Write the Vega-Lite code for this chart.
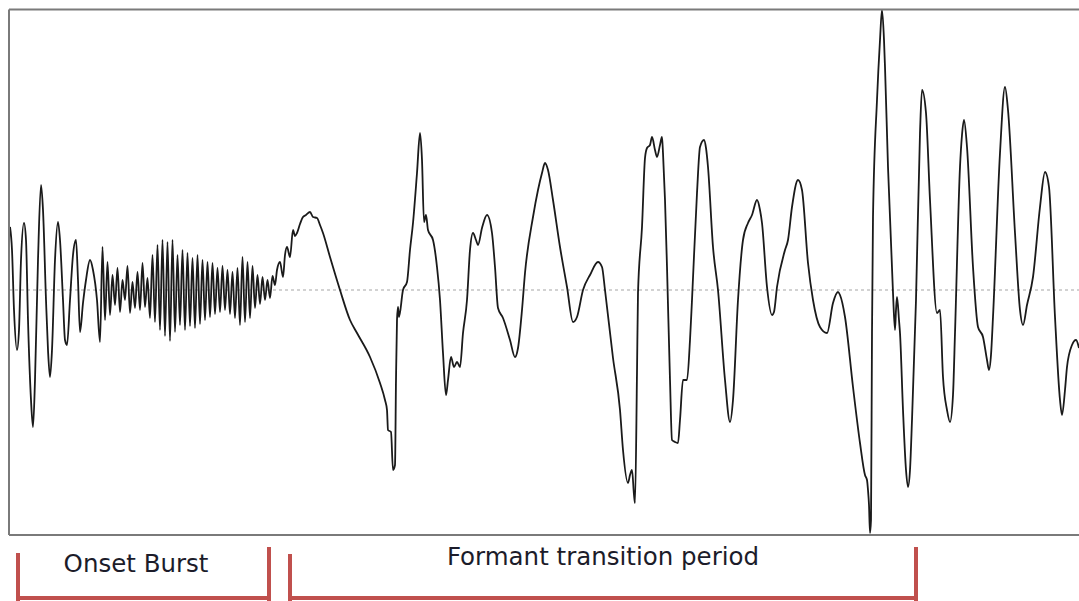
{
  "$schema": "https://vega.github.io/schema/vega-lite/v6.json",
  "width": 1079,
  "height": 601,
  "padding": 0,
  "autosize": {"type": "fit", "contains": "padding"},
  "background": "white",
  "config": {"view": {"stroke": null}},
  "datasets": {
    "zero": [{"t": 9, "t2": 1079, "a": 0, "a2": 0}],
    "frame": [
      {"t": 9, "t2": 1079, "a": 280.5, "a2": 280.5},
      {"t": 9, "t2": 1079, "a": -245, "a2": -245},
      {"t": 9, "t2": 9, "a": 280.5, "a2": -245}
    ],
    "brackets": [
      {"t": 18, "t2": 18, "a": -265, "a2": -310},
      {"t": 18, "t2": 269, "a": -308, "a2": -308},
      {"t": 269, "t2": 269, "a": -259, "a2": -310},
      {"t": 290, "t2": 290, "a": -266, "a2": -310},
      {"t": 290, "t2": 916, "a": -308, "a2": -308},
      {"t": 916, "t2": 916, "a": -259, "a2": -310}
    ],
    "labels": [
      {"t": 136, "a": -275, "label": "Onset Burst"},
      {"t": 603, "a": -268, "label": "Formant transition period"}
    ],
    "wave": [
      {"t":10,"a":63},{"t":12,"a":40},{"t":14,"a":-20},{"t":17,"a":-60},{"t":19,"a":-40},{"t":21,"a":30},{"t":24,"a":67},{"t":26,"a":50},{"t":28,"a":-30},{"t":31,"a":-110},{"t":33,"a":-137},{"t":35,"a":-90},{"t":38,"a":30},{"t":41,"a":105},{"t":43,"a":80},{"t":46,"a":-10},{"t":48,"a":-60},{"t":50,"a":-87},{"t":52,"a":-60},{"t":55,"a":30},{"t":58,"a":68},{"t":60,"a":50},{"t":63,"a":-10},{"t":65,"a":-50},{"t":67,"a":-55},{"t":70,"a":-10},{"t":73,"a":35},{"t":76,"a":50},{"t":78,"a":10},{"t":80,"a":-42},{"t":83,"a":-13},{"t":86,"a":10},{"t":90,"a":30},{"t":93,"a":20},{"t":97,"a":-10},{"t":100,"a":-52},
      {"t":102.5,"a":43},{"t":105,"a":-30},{"t":107.5,"a":28},{"t":110,"a":-25},{"t":112.5,"a":15},{"t":115,"a":-15},{"t":117.5,"a":22},{"t":120,"a":-22},{"t":122.5,"a":10},{"t":125,"a":-10},{"t":127.5,"a":24},{"t":130,"a":-23},{"t":132.5,"a":8},{"t":135,"a":-18},{"t":137.5,"a":18},{"t":140,"a":-20},{"t":142.5,"a":27},{"t":145,"a":-17},{"t":147.5,"a":12},{"t":150,"a":-28},{"t":152.5,"a":35},{"t":155,"a":-32},{"t":157.5,"a":45},{"t":160,"a":-40},{"t":162.5,"a":50},{"t":165,"a":-46},{"t":167.5,"a":48},{"t":170,"a":-51},{"t":172.5,"a":50},{"t":175,"a":-42},{"t":177.5,"a":35},{"t":180,"a":-35},{"t":182.5,"a":40},{"t":185,"a":-40},{"t":187.5,"a":37},{"t":190,"a":-36},{"t":192.5,"a":32},{"t":195,"a":-38},{"t":197.5,"a":35},{"t":200,"a":-34},{"t":202.5,"a":30},{"t":205,"a":-30},{"t":207.5,"a":28},{"t":210,"a":-27},{"t":212.5,"a":27},{"t":215,"a":-24},{"t":217.5,"a":22},{"t":220,"a":-22},{"t":222.5,"a":24},{"t":225,"a":-20},{"t":227.5,"a":20},{"t":230,"a":-24},{"t":232.5,"a":18},{"t":235,"a":-28},{"t":237.5,"a":22},{"t":240,"a":-35},{"t":242.5,"a":33},{"t":245,"a":-32},{"t":247.5,"a":28},{"t":250,"a":-28},{"t":252.5,"a":24},{"t":255,"a":-18},{"t":257.5,"a":15},{"t":260,"a":-14},{"t":262.5,"a":13},{"t":265,"a":-10},{"t":267.5,"a":10},{"t":270,"a":-8},{"t":272.5,"a":14},{"t":275,"a":5},
      {"t":277,"a":20},{"t":280,"a":28},{"t":283,"a":13},{"t":285,"a":35},{"t":287,"a":43},{"t":290,"a":33},{"t":293,"a":60},{"t":295,"a":54},{"t":297,"a":57},{"t":300,"a":66},{"t":303,"a":73},{"t":306,"a":75},{"t":310,"a":78},{"t":313,"a":73},{"t":317,"a":72},{"t":320,"a":65},{"t":323,"a":57},{"t":330,"a":33},{"t":340,"a":0},{"t":350,"a":-30},{"t":357,"a":-43},{"t":370,"a":-67},{"t":380,"a":-93},{"t":385,"a":-110},{"t":387,"a":-120},{"t":388,"a":-140},{"t":391,"a":-142},{"t":393,"a":-180},{"t":395,"a":-175},{"t":396,"a":-90},{"t":397,"a":-30},{"t":398,"a":-17},{"t":399,"a":-27},{"t":403,"a":0},{"t":407,"a":8},{"t":410,"a":40},{"t":413,"a":67},{"t":417,"a":117},{"t":420,"a":157},{"t":422,"a":130},{"t":424,"a":68},{"t":426,"a":75},{"t":428,"a":60},{"t":433,"a":50},{"t":437,"a":23},{"t":440,"a":-10},{"t":443,"a":-63},{"t":446,"a":-105},{"t":448,"a":-90},{"t":451,"a":-67},{"t":454,"a":-77},{"t":457,"a":-72},{"t":460,"a":-77},{"t":463,"a":-43},{"t":467,"a":-10},{"t":470,"a":40},{"t":473,"a":57},{"t":476,"a":50},{"t":478,"a":45},{"t":482,"a":62},{"t":487,"a":75},{"t":492,"a":57},{"t":495,"a":23},{"t":498,"a":-18},{"t":503,"a":-28},{"t":510,"a":-50},{"t":515,"a":-67},{"t":518,"a":-58},{"t":522,"a":-20},{"t":525,"a":17},{"t":533,"a":73},{"t":538,"a":100},{"t":542,"a":117},{"t":545,"a":127},{"t":548,"a":120},{"t":553,"a":90},{"t":560,"a":43},{"t":567,"a":3},{"t":573,"a":-32},{"t":577,"a":-27},{"t":583,"a":0},{"t":590,"a":15},{"t":598,"a":28},{"t":602,"a":23},{"t":605,"a":0},{"t":613,"a":-68},{"t":620,"a":-120},{"t":623,"a":-160},{"t":628,"a":-193},{"t":630,"a":-185},{"t":632,"a":-180},{"t":634,"a":-205},{"t":635,"a":-213},{"t":637,"a":-83},{"t":638,"a":-3},{"t":642,"a":63},{"t":645,"a":132},{"t":647,"a":142},{"t":650,"a":145},{"t":652,"a":153},{"t":655,"a":140},{"t":657,"a":133},{"t":660,"a":145},{"t":662,"a":153},{"t":663,"a":137},{"t":665,"a":90},{"t":667,"a":23},{"t":670,"a":-90},{"t":672,"a":-150},{"t":675,"a":-152},{"t":678,"a":-153},{"t":680,"a":-130},{"t":683,"a":-90},{"t":687,"a":-90},{"t":690,"a":-50},{"t":692,"a":-10},{"t":697,"a":97},{"t":700,"a":143},{"t":704,"a":150},{"t":706,"a":142},{"t":708,"a":123},{"t":713,"a":43},{"t":718,"a":0},{"t":725,"a":-90},{"t":730,"a":-132},{"t":733,"a":-110},{"t":738,"a":-10},{"t":743,"a":50},{"t":748,"a":67},{"t":752,"a":75},{"t":757,"a":90},{"t":760,"a":80},{"t":762,"a":67},{"t":767,"a":3},{"t":772,"a":-25},{"t":774,"a":-22},{"t":777,"a":3},{"t":785,"a":40},{"t":788,"a":50},{"t":792,"a":83},{"t":798,"a":110},{"t":802,"a":100},{"t":808,"a":27},{"t":813,"a":-10},{"t":820,"a":-37},{"t":827,"a":-43},{"t":833,"a":-13},{"t":838,"a":-2},{"t":840,"a":-5},{"t":845,"a":-27},{"t":853,"a":-97},{"t":860,"a":-153},{"t":865,"a":-185},{"t":867,"a":-190},{"t":868,"a":-200},{"t":869,"a":-215},{"t":870,"a":-243},{"t":871,"a":-230},{"t":872,"a":-43},{"t":873,"a":73},{"t":877,"a":190},{"t":880,"a":250},{"t":882,"a":280},{"t":884,"a":250},{"t":885,"a":223},{"t":888,"a":123},{"t":893,"a":-3},{"t":895,"a":-40},{"t":896,"a":-20},{"t":897,"a":-7},{"t":899,"a":-30},{"t":900,"a":-43},{"t":903,"a":-120},{"t":906,"a":-180},{"t":908,"a":-197},{"t":910,"a":-180},{"t":912,"a":-130},{"t":916,"a":-10},{"t":920,"a":157},{"t":922,"a":200},{"t":926,"a":177},{"t":930,"a":90},{"t":937,"a":-23},{"t":940,"a":-20},{"t":943,"a":-87},{"t":947,"a":-120},{"t":950,"a":-132},{"t":953,"a":-105},{"t":955,"a":-43},{"t":960,"a":123},{"t":962,"a":155},{"t":964,"a":170},{"t":967,"a":143},{"t":973,"a":23},{"t":978,"a":-37},{"t":983,"a":-47},{"t":987,"a":-70},{"t":989,"a":-80},{"t":991,"a":-65},{"t":993,"a":-27},{"t":1000,"a":137},{"t":1005,"a":203},{"t":1008,"a":180},{"t":1015,"a":57},{"t":1020,"a":-20},{"t":1023,"a":-35},{"t":1027,"a":-15},{"t":1033,"a":13},{"t":1040,"a":83},{"t":1045,"a":118},{"t":1049,"a":103},{"t":1055,"a":-27},{"t":1060,"a":-110},{"t":1062,"a":-125},{"t":1065,"a":-100},{"t":1067,"a":-77},{"t":1072,"a":-55},{"t":1076,"a":-50},{"t":1079,"a":-58}
    ]
  },
  "encoding": {
    "x": {"field": "t", "type": "quantitative", "scale": {"domain": [0, 1079], "nice": false, "zero": false}, "axis": null},
    "y": {"field": "a", "type": "quantitative", "scale": {"domain": [-311, 290], "nice": false, "zero": false}, "axis": null}
  },
  "layer": [
    {
      "data": {"name": "zero"},
      "mark": {"type": "rule", "color": "#c4c4c4", "strokeWidth": 1.5, "strokeDash": [3, 3], "clip": true},
      "encoding": {"x2": {"field": "t2"}, "y2": {"field": "a2"}}
    },
    {
      "data": {"name": "wave"},
      "mark": {"type": "line", "color": "#1a1a1a", "strokeWidth": 1.8, "strokeJoin": "round", "interpolate": "monotone", "clip": true},
      "encoding": {}
    },
    {
      "data": {"name": "frame"},
      "mark": {"type": "rule", "color": "#7a7a7a", "strokeWidth": 2, "clip": true},
      "encoding": {"x2": {"field": "t2"}, "y2": {"field": "a2"}}
    },
    {
      "data": {"name": "brackets"},
      "mark": {"type": "rule", "color": "#c0504d", "strokeWidth": 4, "strokeCap": "square", "clip": true},
      "encoding": {"x2": {"field": "t2"}, "y2": {"field": "a2"}}
    },
    {
      "data": {"name": "labels"},
      "mark": {"type": "text", "font": "DejaVu Sans", "fontSize": 24.5, "color": "#1c1c2a", "align": "center", "baseline": "middle"},
      "encoding": {"text": {"field": "label"}}
    }
  ]
}
